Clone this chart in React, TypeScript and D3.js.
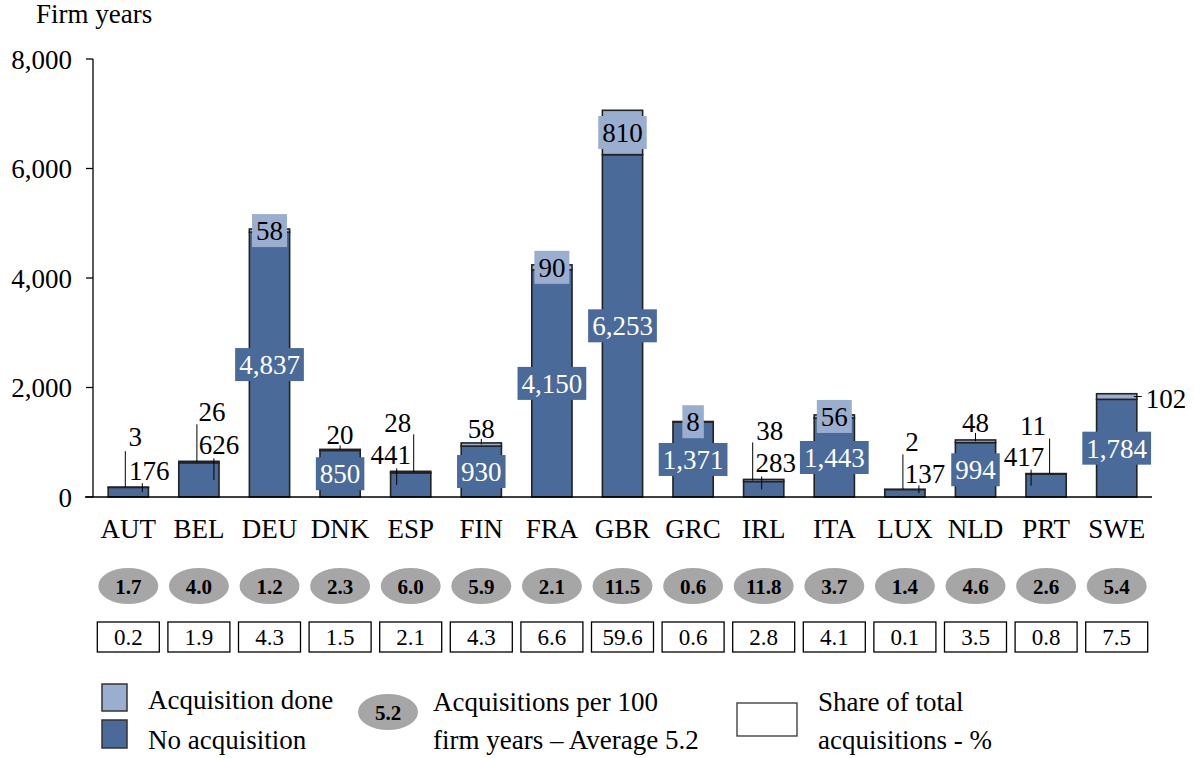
import React from "react";
import * as d3 from "d3";

const categories = ["AUT", "BEL", "DEU", "DNK", "ESP", "FIN", "FRA", "GBR", "GRC", "IRL", "ITA", "LUX", "NLD", "PRT", "SWE"];
const noAcquisition = [176, 626, 4837, 850, 441, 930, 4150, 6253, 1371, 283, 1443, 137, 994, 417, 1784];
const acquisitionDone = [3, 26, 58, 20, 28, 58, 90, 810, 8, 38, 56, 2, 48, 11, 102];
const acqPer100 = [1.7, 4.0, 1.2, 2.3, 6.0, 5.9, 2.1, 11.5, 0.6, 11.8, 3.7, 1.4, 4.6, 2.6, 5.4];
const shareOfTotal = [0.2, 1.9, 4.3, 1.5, 2.1, 4.3, 6.6, 59.6, 0.6, 2.8, 4.1, 0.1, 3.5, 0.8, 7.5];
const yTicks = [0, 2000, 4000, 6000, 8000];
const averagePer100 = 5.2;

// label layout: "box" = boxed label at segment centre; otherwise offsets from bar centre / bar top
type Lay = { box?: boolean; right?: boolean; dx?: number; dy?: number; lx?: number; gap?: number };
const darkLabelLayout: Lay[] = [
  { dx: 21, dy: -7, lx: 14, gap: 3 },
  { dx: 20, dy: -7, lx: 15, gap: 4 },
  { box: true },
  { box: true },
  { dx: -20, dy: -7, lx: -14, gap: 4 },
  { box: true },
  { box: true },
  { box: true },
  { box: true },
  { dx: 12, dy: -7, lx: -2, gap: 4 },
  { box: true },
  { dx: 20, dy: -6, lx: 14, gap: 2 },
  { box: true },
  { dx: -22, dy: -8, lx: -15, gap: 4 },
  { box: true },
];
const acqLabelLayout: Lay[] = [
  { dx: 7, dy: -41, lx: -3, gap: 5 },
  { dx: 13, dy: -40, lx: -2, gap: 3 },
  { box: true },
  { dx: 0, dy: -5, lx: 0, gap: 1 },
  { dx: -13, dy: -39, lx: 3, gap: 2 },
  { dx: 0, dy: -5, lx: 0, gap: 1 },
  { box: true },
  { box: true },
  { box: true },
  { dx: 6, dy: -39, lx: -11, gap: 2 },
  { box: true },
  { dx: 7, dy: -38, lx: -2, gap: 3 },
  { dx: 0, dy: -8, lx: 0, gap: 1 },
  { dx: -13, dy: -39, lx: 3.5, gap: 4 },
  { right: true },
];

const DARK = "#4A6A9A";
const LIGHT = "#9AAFCF";
const GRAY = "#A6A6A6";
const FONT = "'Liberation Serif', 'Times New Roman', serif";
const FS = 27;

const fmt = d3.format(",");
const textWidth = (s: string, fs: number) =>
  s.split("").reduce((a, c) => a + (c === "," || c === "." ? 0.25 : 0.5), 0) * fs;

export default function App() {
  const W = 1194, H = 758;
  const x = d3.scaleBand<string>().domain(categories).range([93, 1152]).paddingInner(0.43).paddingOuter(0.215);
  const y = d3.scaleLinear().domain([0, 8000]).range([497, 59]);
  const bw = x.bandwidth();

  return (
    <svg width={W} height={H} style={{ display: "block", position: "absolute", left: 0, top: 0 }} fontFamily={FONT}>
      <rect width={W} height={H} fill="#fff" />
      <text x={36} y={23} fontSize={FS}>Firm years</text>

      {/* y axis */}
      <line x1={93} x2={93} y1={y(8000)} y2={y(0)} stroke="#000" strokeWidth={1.3} />
      {yTicks.map((t) => (
        <g key={t}>
          <line x1={86} x2={93} y1={y(t)} y2={y(t)} stroke="#000" strokeWidth={1.3} />
          <text x={72} y={y(t) + 9.5} fontSize={FS} textAnchor="end">{fmt(t)}</text>
        </g>
      ))}

      {/* bars */}
      {categories.map((c, i) => {
        const x0 = x(c)!;
        const a = noAcquisition[i], b = acquisitionDone[i];
        return (
          <g key={c}>
            <rect x={x0} y={y(a)} width={bw} height={y(0) - y(a)} fill={DARK} stroke="#222" strokeWidth={1.6} />
            <rect x={x0} y={y(a + b)} width={bw} height={y(a) - y(a + b)} fill={LIGHT} stroke="#222" strokeWidth={1.6} />
          </g>
        );
      })}
      <line x1={85} x2={1152} y1={y(0)} y2={y(0)} stroke="#000" strokeWidth={1.3} />

      {/* labels */}
      {categories.map((c, i) => {
        const cx = x(c)! + bw / 2;
        const a = noAcquisition[i], b = acquisitionDone[i];
        const top = y(a + b);
        const els: React.ReactNode[] = [];
        const dl = darkLabelLayout[i];
        const ds = fmt(a);
        const dcy = y(a / 2);
        if (dl.box) {
          const w = textWidth(ds, FS) + 8;
          els.push(<rect key="db" x={cx - w / 2} y={dcy - 16.5} width={w} height={33} fill={DARK} />);
          els.push(<text key="dt" x={cx} y={dcy + 9.5} fontSize={FS} fill="#fff" textAnchor="middle">{ds}</text>);
        } else {
          const by = top + dl.dy!;
          els.push(<text key="dt" x={cx + dl.dx!} y={by} fontSize={FS} textAnchor="middle">{ds}</text>);
          els.push(<line key="dln" x1={cx + dl.lx!} x2={cx + dl.lx!} y1={by + dl.gap!} y2={dcy} stroke="#000" strokeWidth={1} />);
        }
        const al = acqLabelLayout[i];
        const as = fmt(b);
        const acy = y(a + b / 2);
        if (al.box) {
          const w = textWidth(as, FS) + 8;
          els.push(<rect key="ab" x={cx - w / 2} y={acy - 16.5} width={w} height={33} fill={LIGHT} />);
          els.push(<text key="at" x={cx} y={acy + 9.5} fontSize={FS} textAnchor="middle">{as}</text>);
        } else if (al.right) {
          els.push(<line key="aln" x1={cx + bw / 2 - 3} x2={cx + bw / 2 + 5} y1={acy} y2={acy} stroke="#000" strokeWidth={1} />);
          els.push(<text key="at" x={cx + 29} y={acy + 11} fontSize={FS}>{as}</text>);
        } else {
          const by = top + al.dy!;
          els.push(<text key="at" x={cx + al.dx!} y={by} fontSize={FS} textAnchor="middle">{as}</text>);
          els.push(<line key="aln" x1={cx + al.lx!} x2={cx + al.lx!} y1={by + al.gap!} y2={acy} stroke="#000" strokeWidth={1} />);
        }
        return <g key={"l" + c}>{els}</g>;
      })}

      {/* category labels, ellipses, boxes */}
      {categories.map((c, i) => {
        const cx = x(c)! + bw / 2;
        return (
          <g key={"r" + c}>
            <text x={cx} y={538} fontSize={FS} textAnchor="middle">{c}</text>
            <ellipse cx={cx} cy={586} rx={30} ry={18} fill={GRAY} />
            <text x={cx} y={594} fontSize={21} fontWeight="bold" textAnchor="middle">{acqPer100[i].toFixed(1)}</text>
            <rect x={cx - 31} y={622} width={62} height={30} fill="#fff" stroke="#000" strokeWidth={1.3} />
            <text x={cx} y={645} fontSize={23} textAnchor="middle">{shareOfTotal[i].toFixed(1)}</text>
          </g>
        );
      })}

      {/* legend */}
      <rect x={102} y={684} width={25} height={27} fill={LIGHT} stroke="#333" strokeWidth={1.5} />
      <rect x={102} y={720} width={25} height={28} fill={DARK} stroke="#333" strokeWidth={1.5} />
      <text x={148} y={709} fontSize={FS}>Acquisition done</text>
      <text x={148} y={749} fontSize={FS}>No acquisition</text>
      <ellipse cx={388} cy={712} rx={30} ry={18} fill={GRAY} />
      <text x={388} y={720} fontSize={21} fontWeight="bold" textAnchor="middle">{averagePer100.toFixed(1)}</text>
      <text x={433} y={711} fontSize={FS}>Acquisitions per 100</text>
      <text x={433} y={749} fontSize={FS}>{`firm years – Average ${averagePer100.toFixed(1)}`}</text>
      <rect x={737} y={703} width={60} height={33} fill="#fff" stroke="#333" strokeWidth={1.3} />
      <text x={818} y={711} fontSize={FS}>Share of total</text>
      <text x={818} y={749} fontSize={FS}>acquisitions - %</text>
    </svg>
  );
}
